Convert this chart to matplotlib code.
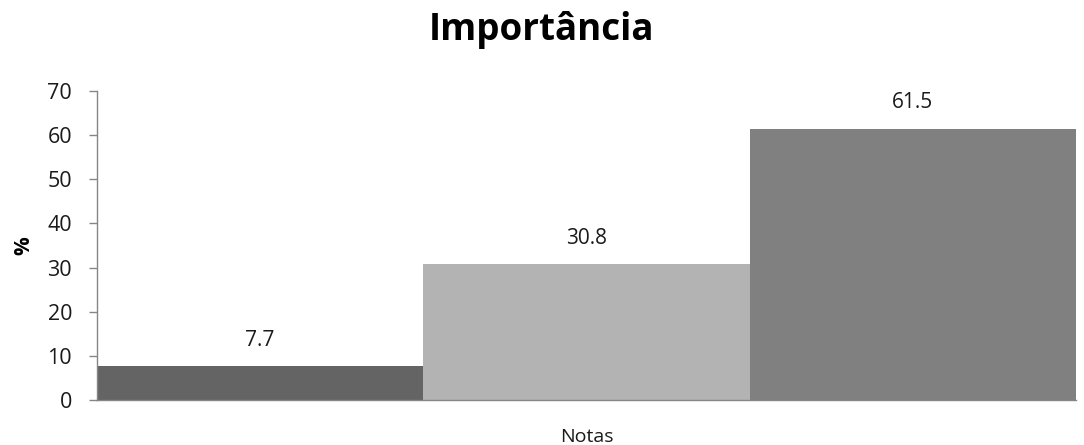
import matplotlib.pyplot as plt

notas = ["1", "2", "3"]
valores = [7.7, 30.8, 61.5]
cores = ["#646464", "#b3b3b3", "#808080"]
yticks = [0, 10, 20, 30, 40, 50, 60, 70]

plt.rcParams['font.family'] = ['Open Sans', 'DejaVu Sans']

fig = plt.figure(figsize=(10.84, 4.45), dpi=100)
ax = fig.add_axes([0.0895, 0.1011, 0.9031, 0.6944])

pos = list(range(len(valores)))
barras = ax.bar(pos, valores, width=1.0, color=cores, linewidth=0)
for b, v in zip(barras, valores):
    ax.annotate(f"{v:.1f}", (b.get_x() + b.get_width() / 2, v),
                xytext=(0, 11), textcoords="offset points",
                ha="center", va="bottom", fontsize=15, color="#1a1a1a")

ax.set_xlim(-0.5, len(valores) - 0.5)
ax.set_ylim(0, 70)
ax.set_yticks(yticks)
ax.set_xticks([])
ax.tick_params(axis='y', labelsize=15.5, length=6, width=1, color="#868686",
               labelcolor="#1a1a1a", pad=12)

for s in ["top", "right"]:
    ax.spines[s].set_visible(False)
for s in ["left", "bottom"]:
    ax.spines[s].set_color("#868686")
    ax.spines[s].set_linewidth(1)

ax.set_ylabel("%", fontsize=15, fontweight="bold", labelpad=9)
ax.set_xlabel("Notas", fontsize=14, labelpad=20, color="#1a1a1a")
fig.suptitle("Importância", fontsize=26.5, fontweight="bold", x=0.5, y=0.975, va="top")

plt.savefig("out.png", dpi=100)
